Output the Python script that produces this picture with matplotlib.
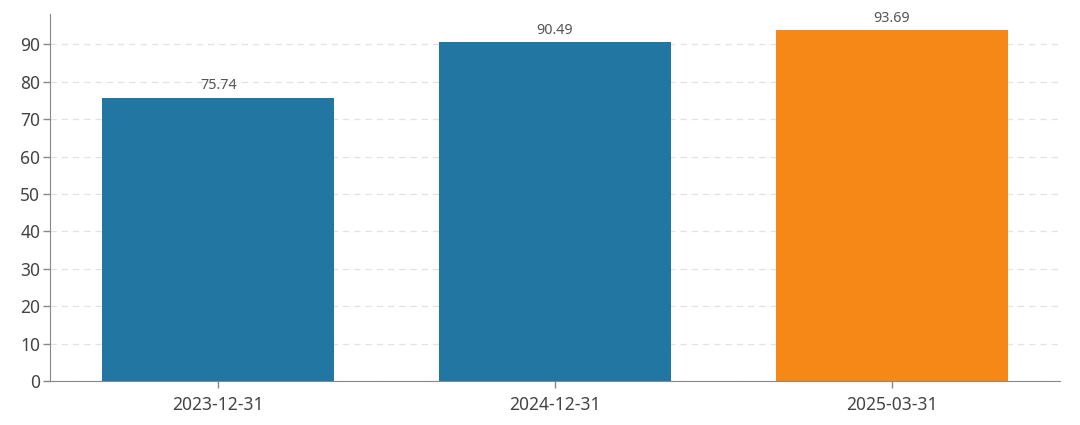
import matplotlib
matplotlib.use("Agg")
import matplotlib.pyplot as plt

dates = ["2023-12-31", "2024-12-31", "2025-03-31"]
values = [75.74, 90.49, 93.69]
colors = ["#2276a2", "#2276a2", "#f68818"]

plt.rcParams['font.family'] = ['Noto Sans', 'DejaVu Sans']

fig = plt.figure(figsize=(10.8, 4.25), dpi=100)
ax = fig.add_axes([50/1080, 44/425, 1010/1080, 367/425])

x = list(range(len(dates)))
bars = ax.bar(x, values, width=0.69, color=colors, zorder=3)
for xi, v in zip(x, values):
    ax.text(xi, v + 1.2, f"{v:.2f}", ha="center", va="bottom", fontsize=10.3, color="#555555")

ax.set_xlim(-0.5, 2.5)
ax.set_ylim(0, 98.1)
ax.set_yticks(range(0, 100, 10))
ax.set_xticks(x)
ax.set_xticklabels(dates)
ax.yaxis.grid(True, linestyle=(0, (5, 4)), color="#e2e2e2", linewidth=0.9, zorder=0)

for s in ["top", "right"]:
    ax.spines[s].set_visible(False)
for s in ["left", "bottom"]:
    ax.spines[s].set_color("#888888")
ax.tick_params(axis="both", colors="#888888", labelcolor="#444444", labelsize=12.5, length=5, width=1)
ax.tick_params(axis="x", pad=6)
ax.tick_params(axis="y", pad=2)

fig.savefig("out.png")
